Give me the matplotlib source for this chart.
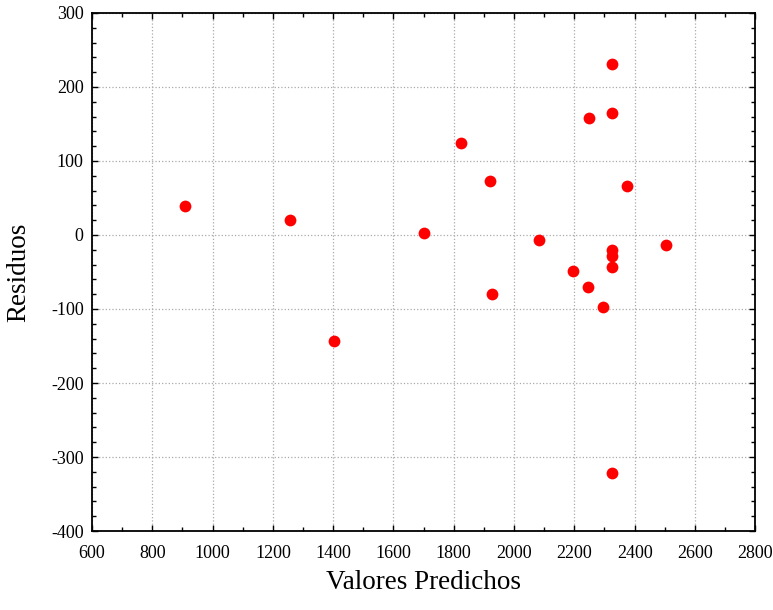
import numpy as np
import matplotlib.pyplot as plt
from matplotlib.ticker import MultipleLocator

# valores predichos y residuos
predichos = [910, 1258, 1403, 1701, 1824, 1920, 1927, 2083, 2196, 2246, 2249,
             2295, 2325, 2325, 2325, 2325, 2325, 2375, 2504, 2325]
residuos = [39, 20, -143, 3, 124, 73, -80, -7, -49, -70, 158,
            -97, 231, 165, -20, -28, -43, 66, -14, -321]

plt.rcParams['font.family'] = ['Liberation Serif', 'DejaVu Serif']
plt.rcParams['axes.unicode_minus'] = False

fig = plt.figure(figsize=(7.73, 6.10), dpi=100)
ax = fig.add_axes([0.119, 0.1295, 0.858, 0.8492])

ax.scatter(predichos, residuos, s=72, color='#ff0000', zorder=3, linewidths=0)

ax.set_xlim(600, 2800)
ax.set_ylim(-400, 300)
ax.xaxis.set_major_locator(MultipleLocator(200))
ax.xaxis.set_minor_locator(MultipleLocator(100))
ax.yaxis.set_major_locator(MultipleLocator(100))
ax.yaxis.set_minor_locator(MultipleLocator(20))

ax.grid(True, which='major', linestyle=':', color='#aaaaaa', linewidth=0.9)
ax.tick_params(which='both', direction='in', top=True, right=True,
               labelsize=13, color='black')
ax.tick_params(axis='x', which='major', pad=10)
ax.tick_params(axis='y', which='major', pad=6)
ax.tick_params(which='major', length=4, width=1)
ax.tick_params(which='minor', length=3, width=1)
for sp in ax.spines.values():
    sp.set_linewidth(1.3)

ax.set_xlabel('Valores Predichos', fontsize=19.5, labelpad=6)
ax.set_ylabel('Residuos', fontsize=19.5, labelpad=14)

fig.savefig('out.png', dpi=100)
